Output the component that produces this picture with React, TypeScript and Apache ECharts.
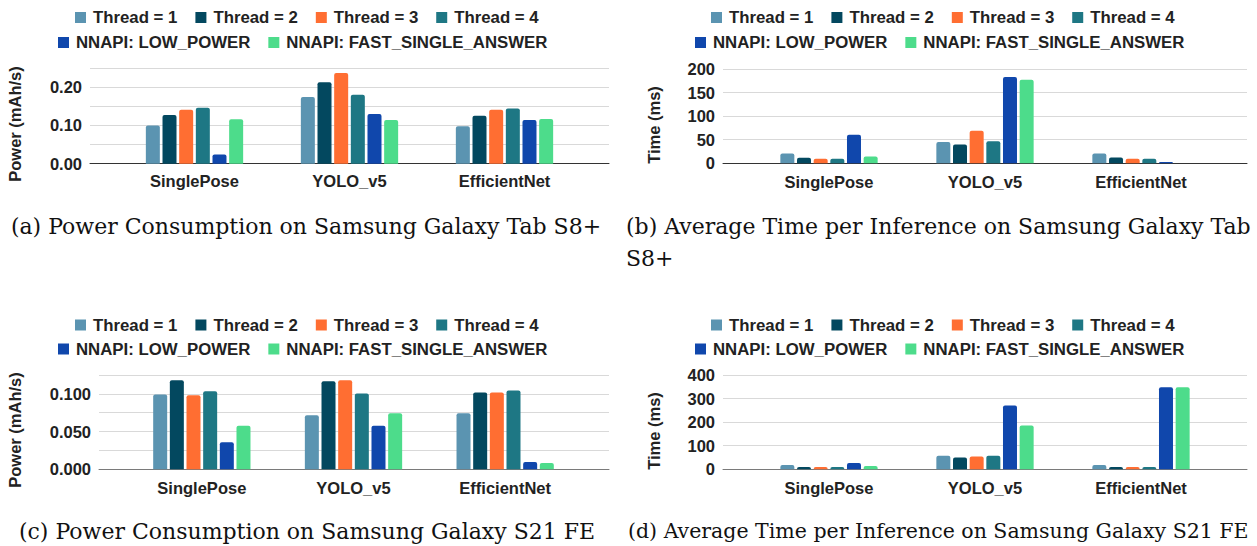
import React, { useEffect, useRef } from "react";
import * as echarts from "echarts";

const categories = ["SinglePose", "YOLO_v5", "EfficientNet"];
const seriesNames = [
  "Thread = 1",
  "Thread = 2",
  "Thread = 3",
  "Thread = 4",
  "NNAPI: LOW_POWER",
  "NNAPI: FAST_SINGLE_ANSWER",
];
const seriesColors = ["#5b94b1", "#03485f", "#ff6e32", "#1e7784", "#1047ac", "#4ddc8b"];

// (a) Power consumption, Galaxy Tab S8+ (mAh/s), one row per series
const tabS8Power = [
  [0.1, 0.174, 0.098],
  [0.127, 0.213, 0.125],
  [0.141, 0.237, 0.141],
  [0.146, 0.18, 0.144],
  [0.024, 0.13, 0.114],
  [0.116, 0.114, 0.117],
];
// (b) Average time per inference, Galaxy Tab S8+ (ms)
const tabS8Time = [
  [21, 45, 21],
  [12, 40, 12.5],
  [9.8, 69, 9.8],
  [9.5, 47, 9.8],
  [60.5, 183, 2.8],
  [14.5, 177, 0],
];
// (c) Power consumption, Galaxy S21 FE (mAh/s)
const s21Power = [
  [0.0993, 0.0718, 0.0744],
  [0.118, 0.1167, 0.1018],
  [0.098, 0.118, 0.1018],
  [0.1033, 0.1004, 0.1044],
  [0.0357, 0.0577, 0.0097],
  [0.0576, 0.0744, 0.0084],
];
// (d) Average time per inference, Galaxy S21 FE (ms)
const s21Time = [
  [18.5, 58, 18.5],
  [10, 50, 10],
  [10, 54, 10],
  [10, 58, 10],
  [27, 271, 348],
  [14, 186, 348],
];

const yTicksA = { max: 0.25, interval: 0.05, labelStep: 0.1, decimals: 2 };
const yTicksB = { max: 200, interval: 50, labelStep: 50, decimals: 0 };
const yTicksC = { max: 0.125, interval: 0.025, labelStep: 0.05, decimals: 3 };
const yTicksD = { max: 400, interval: 100, labelStep: 100, decimals: 0 };

const captions = [
  "(a) Power Consumption on Samsung Galaxy Tab S8+",
  "(b) Average Time per Inference on Samsung Galaxy Tab",
  "S8+",
  "(c) Power Consumption on Samsung Galaxy S21 FE",
  "(d) Average Time per Inference on Samsung Galaxy S21 FE",
];

const FONT = '"Liberation Sans", Arial, sans-serif';
const FS = 16.5;
const LFS = 16.8;

const panels = [
  {
    data: tabS8Power, ticks: yTicksA, yName: "Power (mAh/s)",
    wide: { left: 90, width: 519, top: 68, height: 95.7 },
    narrow: { left: 117, width: 465 },
    axisColor: "#333", labelMargin: 8.5,
    legendTop: [17.5, 42.5], legendLeft: [75, 58], yNameX: 15, yNameY: 124,
  },
  {
    data: tabS8Time, ticks: yTicksB, yName: "Time (ms)",
    wide: { left: 723, width: 524, top: 69, height: 94.3 },
    narrow: { left: 751, width: 468 },
    axisColor: "#333", labelMargin: 10,
    legendTop: [17.5, 42.5], legendLeft: [711, 695], yNameX: 654, yNameY: 125,
  },
  {
    data: s21Power, ticks: yTicksC, yName: "Power (mAh/s)",
    wide: { left: 99, width: 510, top: 375, height: 94.3 },
    narrow: { left: 126, width: 455 },
    axisColor: "#7a7a7a", labelMargin: 10.5,
    legendTop: [325, 349], legendLeft: [75, 58], yNameX: 15, yNameY: 430,
  },
  {
    data: s21Time, ticks: yTicksD, yName: "Time (ms)",
    wide: { left: 723, width: 524, top: 375, height: 94.3 },
    narrow: { left: 751, width: 468 },
    axisColor: "#7a7a7a", labelMargin: 10,
    legendTop: [325, 349], legendLeft: [711, 695], yNameX: 654, yNameY: 431,
  },
];

function buildOption() {
  const grid: any[] = [];
  const xAxis: any[] = [];
  const yAxis: any[] = [];
  const series: any[] = [];
  const legend: any[] = [];
  const graphic: any[] = [];

  panels.forEach((p) => {
    const wideIdx = grid.length;
    grid.push({ left: p.wide.left, width: p.wide.width, top: p.wide.top, height: p.wide.height });
    const narrowIdx = grid.length;
    grid.push({ left: p.narrow.left, width: p.narrow.width, top: p.wide.top, height: p.wide.height });

    const t = p.ticks;
    xAxis.push({
      type: "category", gridIndex: wideIdx, data: categories,
      axisLine: { show: true, lineStyle: { color: p.axisColor, width: 1 } },
      axisTick: { show: false }, axisLabel: { show: false }, splitLine: { show: false },
    });
    yAxis.push({
      type: "value", gridIndex: wideIdx, min: 0, max: t.max, interval: t.interval,
      axisLine: { show: false }, axisTick: { show: false },
      splitLine: { show: true, lineStyle: { color: "#d9d9d9", width: 1 } },
      axisLabel: {
        show: true, margin: 8, color: "#222", fontWeight: "bold", fontSize: FS, fontFamily: FONT,
        formatter: (v: number) => {
          const r = v / t.labelStep;
          return Math.abs(r - Math.round(r)) < 1e-6 ? v.toFixed(t.decimals) : "";
        },
      },
    });
    const xIdx = xAxis.length;
    xAxis.push({
      type: "category", gridIndex: narrowIdx, data: categories,
      axisLine: { show: false }, axisTick: { show: false }, splitLine: { show: false },
      axisLabel: { show: true, margin: p.labelMargin, color: "#222", fontWeight: "bold", fontSize: FS, fontFamily: FONT },
    });
    const yIdx = yAxis.length;
    yAxis.push({
      type: "value", gridIndex: narrowIdx, min: 0, max: t.max, interval: t.interval, show: false,
      splitLine: { show: false },
    });

    p.data.forEach((vals, s) => {
      series.push({
        type: "bar", name: seriesNames[s], xAxisIndex: xIdx, yAxisIndex: yIdx,
        data: vals, barWidth: 14, barGap: "19%",
        itemStyle: { color: seriesColors[s], borderRadius: [2, 2, 0, 0] },
      });
    });

    const legendText = {
      color: "#222", fontWeight: "bold", fontSize: LFS, fontFamily: FONT, lineHeight: 17,
      padding: [0, 0, 0, 2],
    };
    legend.push({
      data: seriesNames.slice(0, 4), left: p.legendLeft[0], top: p.legendTop[0] - 8.5,
      itemWidth: 11, itemHeight: 11, itemGap: 18, icon: "rect", selectedMode: false,
      textStyle: legendText, padding: 0,
    });
    legend.push({
      data: seriesNames.slice(4), left: p.legendLeft[1], top: p.legendTop[1] - 8.5,
      itemWidth: 11, itemHeight: 11, itemGap: 18, icon: "rect", selectedMode: false,
      textStyle: legendText, padding: 0,
    });

    graphic.push({
      type: "text", x: p.yNameX, y: p.yNameY, rotation: Math.PI / 2,
      style: {
        text: p.yName, font: `bold ${FS}px ${FONT}`, fill: "#222",
        align: "center", verticalAlign: "middle",
      },
    });
  });

  const capFont = '22px "DejaVu Serif", serif';
  const capFontD = '20.5px "DejaVu Serif", serif';
  const capFill = "#111";
  graphic.push({ type: "text", x: 306, y: 226, style: { text: captions[0], font: capFont, fill: capFill, align: "center", verticalAlign: "middle" } });
  graphic.push({ type: "text", x: 626, y: 226, style: { text: captions[1], font: capFont, fill: capFill, align: "left", verticalAlign: "middle" } });
  graphic.push({ type: "text", x: 626, y: 258, style: { text: captions[2], font: capFont, fill: capFill, align: "left", verticalAlign: "middle" } });
  graphic.push({ type: "text", x: 307, y: 531, style: { text: captions[3], font: capFont, fill: capFill, align: "center", verticalAlign: "middle" } });
  graphic.push({ type: "text", x: 628, y: 531, style: { text: captions[4], font: capFontD, fill: capFill, align: "left", verticalAlign: "middle" } });

  return {
    animation: false,
    backgroundColor: "#ffffff",
    grid, xAxis, yAxis, series, legend, graphic,
  };
}

export default function App() {
  const ref = useRef<HTMLDivElement>(null);
  useEffect(() => {
    if (!ref.current) return;
    const chart = echarts.init(ref.current, undefined, { renderer: "svg" });
    chart.setOption(buildOption());
    return () => chart.dispose();
  }, []);
  return (
    <div
      ref={ref}
      style={{ position: "absolute", left: 0, top: 0, width: 1257, height: 546, overflow: "hidden" }}
    />
  );
}
